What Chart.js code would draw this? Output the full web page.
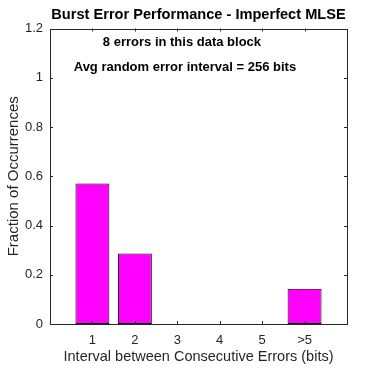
<!DOCTYPE html>
<html>
<head>
<meta charset="UTF-8">
<title>Burst Error Performance</title>
<script src="https://cdn.jsdelivr.net/npm/chart.js"></script>
<style>
  html,body{margin:0;padding:0;background:#fff;}
  #wrap{width:384px;height:368px;}
</style>
</head>
<body>
<div id="wrap"><canvas id="c" width="384" height="368"></canvas></div>
<script>
/* ==== data ==== */
const categories = ['', '1', '2', '3', '4', '5', '>5', ''];
const fractions  = [null, 0.571, 0.286, 0, 0, 0, 0.143, null];
const yTicks     = [0, 0.2, 0.4, 0.6, 0.8, 1, 1.2];
const notes      = ['8 errors in this data block', 'Avg random error interval = 256 bits'];

const ink = '#262626';
const FONT = '"Liberation Sans", Arial, Helvetica, sans-serif';

/* ==== box + inward ticks + notes ==== */
const matlabAxes = {
  id: 'matlabAxes',
  afterDatasetsDraw(chart){
    const {ctx, chartArea:a, scales:{x, y}} = chart;
    ctx.save();
    ctx.strokeStyle = ink;
    ctx.lineWidth = 1;
    ctx.strokeRect(Math.round(a.left)+0.5, Math.round(a.top)+0.5,
                   Math.round(a.right-a.left), Math.round(a.bottom-a.top));
    const tl = 3;
    ctx.beginPath();
    for(let i=1;i<categories.length-1;i++){
      const px = Math.round(x.getPixelForValue(i))+0.5;
      ctx.moveTo(px, a.bottom); ctx.lineTo(px, a.bottom-tl);
      ctx.moveTo(px, a.top); ctx.lineTo(px, a.top+tl);
    }
    yTicks.forEach(v=>{
      const py = Math.round(y.getPixelForValue(v))+0.5;
      ctx.moveTo(a.left, py); ctx.lineTo(a.left+tl, py);
      ctx.moveTo(a.right, py); ctx.lineTo(a.right-tl, py);
    });
    ctx.stroke();

    ctx.fillStyle = '#000';
    ctx.font = 'bold 13px ' + FONT;
    ctx.textAlign = 'center';
    ctx.textBaseline = 'middle';
    ctx.fillText(notes[0], x.getPixelForValue(3.11), y.getPixelForValue(1.143));
    ctx.fillText(notes[1], x.getPixelForValue(3.18), y.getPixelForValue(1.041));
    ctx.restore();
  }
};

new Chart(document.getElementById('c'), {
  type: 'bar',
  data: {
    labels: categories,
    datasets: [{
      data: fractions,
      backgroundColor: '#ff00ff',
      borderColor: '#000',
      borderWidth: 1,
      borderSkipped: false,
      barPercentage: 0.8,
      categoryPercentage: 1
    }]
  },
  options: {
    responsive: false,
    animation: false,
    layout: {padding: {left: 0, right: 37, top: 0, bottom: 0}},
    plugins: {
      legend: {display: false},
      tooltip: {enabled: false},
      title: {
        display: true,
        fullSize: false,
        text: 'Burst Error Performance - Imperfect MLSE',
        color: '#000',
        font: {family: FONT, size: 14.6, weight: 'bold', lineHeight: 1.2},
        padding: {top: 6, bottom: 5}
      }
    },
    scales: {
      x: {
        offset: false,
        grid: {display: false, drawTicks: false},
        border: {display: false},
        ticks: {color: ink, autoSkip: false, maxRotation: 0, padding: 9,
                font: {family: FONT, size: 13}},
        title: {display: true, text: 'Interval between Consecutive Errors (bits)', color: ink,
                font: {family: FONT, size: 14.5}, padding: {top: 0, bottom: 2}},
        afterFit: s => { s.height = 44; }
      },
      y: {
        min: 0, max: 1.2,
        afterBuildTicks: s => { s.ticks = yTicks.map(v => ({value: v})); },
        grid: {display: false, drawTicks: false},
        border: {display: false},
        ticks: {color: ink, padding: 7, font: {family: FONT, size: 13},
                callback: v => String(+v.toFixed(1))},
        title: {display: true, text: 'Fraction of Occurrences', color: ink,
                font: {family: FONT, size: 15}, padding: {top: 5, bottom: 0}},
        afterFit: s => { s.width = 50; }
      }
    }
  },
  plugins: [matlabAxes]
});
</script>
</body>
</html>
